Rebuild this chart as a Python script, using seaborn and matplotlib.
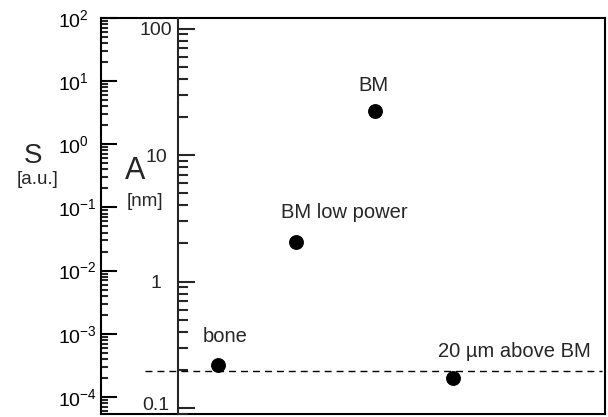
import numpy as np
import pandas as pd
import matplotlib
matplotlib.use("Agg")
import matplotlib.pyplot as plt
import matplotlib.ticker as mticker
import matplotlib.transforms as mtransforms
import seaborn as sns

# ---- data ----
categories = ["bone", "BM low power", "BM", "20 \u00b5m above BM"]
x_pos = [1, 2, 3, 4]
amplitude_nm = [0.219, 2.05, 22.3, 0.173]
noise_level_nm = 0.196
s_ticks = [1e-4, 1e-3, 1e-2, 1e-1, 1e0, 1e1, 1e2]
s_tick_labels = ["$\\mathregular{10^{-4}}$", "$\\mathregular{10^{-3}}$", "$\\mathregular{10^{-2}}$",
                 "$\\mathregular{10^{-1}}$", "$\\mathregular{10^{0}}$", "$\\mathregular{10^{1}}$",
                 "$\\mathregular{10^{2}}$"]
a_ticks = [0.1, 1, 10, 100]
a_tick_labels = ["0.1", "1", "10", "100"]

df = pd.DataFrame({"x": x_pos, "A": amplitude_nm, "label": categories})

sns.set_style("ticks")
plt.rcParams["font.family"] = ["Liberation Sans", "DejaVu Sans"]
plt.rcParams["mathtext.fontset"] = "custom"
plt.rcParams["mathtext.rm"] = "Liberation Sans"

fig = plt.figure(figsize=(6.08, 4.17), dpi=100)
ax = fig.add_axes([101/608, 3/417, 504/608, 396/417])

# outer S axis
ax.set_yscale("log")
ax.set_ylim(10**-4.27, 1e2)
ax.set_xlim(-0.494, 5.94)
ax.set_xticks([])
ax.set_yticks(s_ticks)
ax.set_yticklabels(s_tick_labels)
ax.yaxis.set_minor_locator(mticker.LogLocator(base=10, subs=np.arange(2, 10), numticks=20))
ax.yaxis.set_minor_formatter(mticker.NullFormatter())
ax.tick_params(axis="y", which="major", direction="in", length=11.5, width=1.5,
               labelsize=14, pad=31, colors="black")
ax.tick_params(axis="y", which="minor", direction="in", length=5, width=1.5)
for t in ax.get_yticklabels():
    t.set_horizontalalignment("left")
for sp in ax.spines.values():
    sp.set_linewidth(1.5)
    sp.set_color("black")
    sp.set_visible(True)

# inner A axis
axA = ax.twinx()
axA.set_yscale("log")
axA.set_ylim(10**-1.047, 10**2.083)
axA.yaxis.tick_left()
axA.spines["left"].set_position(("axes", 77/504))
axA.spines["left"].set_linewidth(1.5)
axA.spines["left"].set_visible(True)
for s in ["right", "top", "bottom"]:
    axA.spines[s].set_visible(False)
axA.set_yticks(a_ticks)
axA.set_yticklabels(a_tick_labels)
axA.yaxis.set_minor_locator(mticker.LogLocator(base=10, subs=np.arange(2, 10), numticks=20))
axA.yaxis.set_minor_formatter(mticker.NullFormatter())
axA.tick_params(axis="y", which="major", direction="in", length=12, width=1.5,
                labelsize=14, pad=15.8)
axA.tick_params(axis="y", which="minor", direction="in", length=7, width=1.5)
for t in axA.get_yticklabels():
    t.set_horizontalalignment("center")
# lift the lowest label a little so that it stays inside the figure, as in the reference
low = axA.get_yticklabels()[0]
low.set_transform(low.get_transform() + mtransforms.ScaledTranslation(0, 5/100, fig.dpi_scale_trans))

sns.scatterplot(data=df, x="x", y="A", ax=axA, color="black", s=115,
                linewidth=0, legend=False, zorder=5)
axA.set_xlabel("")
axA.set_ylabel("")
ax.set_xlabel("")

axA.axhline(noise_level_nm, xmin=44/504, xmax=0.995, color="black", lw=1.0,
            linestyle=(0, (5, 3.6)))

# point labels
offsets = {
    "bone": (-15, 23, "left"),
    "BM low power": (48, 24, "center"),
    "BM": (-1, 20, "center"),
    "20 \u00b5m above BM": (-15, 21, "left"),
}
for xv, yv, lab in zip(x_pos, amplitude_nm, categories):
    dx, dy, ha = offsets[lab]
    axA.annotate(lab, (xv, yv), xytext=(dx * 0.72, dy * 0.72), textcoords="offset points",
                 ha=ha, va="baseline", fontsize=14.5)

# axis titles
fig.text(33/608, 1 - 156/417, "S", fontsize=20, ha="center", va="center")
fig.text(37.5/608, 1 - 180/417, "[a.u.]", fontsize=13.5, ha="center", va="center")
fig.text(135/608, 1 - 171/417, "A", fontsize=22, ha="center", va="center")
fig.text(145/608, 1 - 201/417, "[nm]", fontsize=13.5, ha="center", va="center")

fig.savefig("out.png", dpi=100)
